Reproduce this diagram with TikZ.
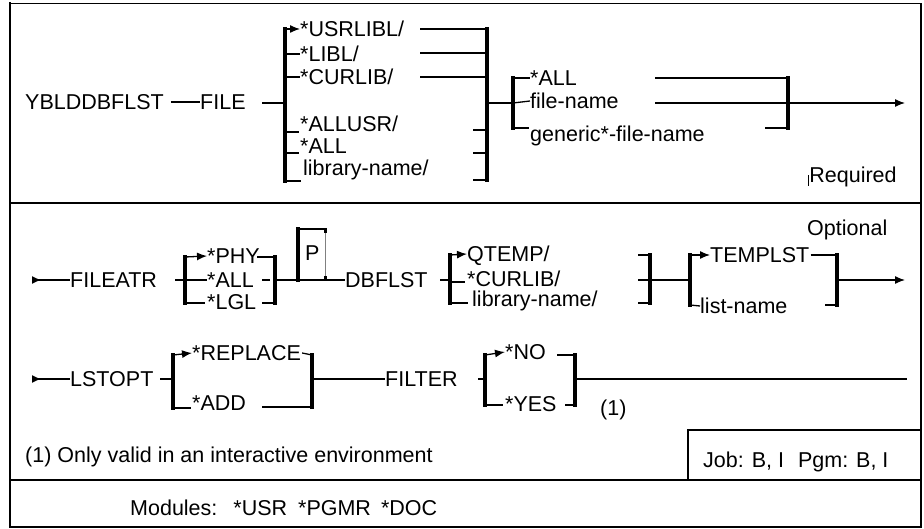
\documentclass[tikz,border=0pt]{standalone}
\usepackage{fontspec}
\setmainfont{Liberation Sans}
\usetikzlibrary{arrows.meta}

\tikzset{
  txt/.style={anchor=west,inner sep=0pt,text height=15.4pt,text depth=0pt,font=\fontsize{21.5}{21.5}\selectfont},
  ln/.style={line width=1.3pt},
  brk/.style={line width=3.2pt,line cap=rect},
  tip/.style={{Latex[reversed,length=9pt,width=8pt]}-},
}

\begin{document}
\begin{tikzpicture}[x=1pt,y=-1pt,>={Latex[length=10pt,width=8pt]}]
  \useasboundingbox (0,0) rectangle (924,529);
  % frame
  \draw[line width=1.5pt] (10,3.5) rectangle (921,527);
  \draw[line width=2.5pt] (10,2.5) -- (10,528);
  \draw[line width=1.8pt] (10,203) -- (921,203);
  \draw[line width=1.8pt] (10,480) -- (921,480);
  \draw[line width=2.5pt] (688,480) -- (688,430) -- (921,430);

  % row 1
  \node[txt] (cmd) at (25,102) {YBLDDBFLST};
  \node[txt] (file) at (200,102) {FILE};
  \node[txt] (usrlibl) at (300,29) {*USRLIBL/};
  \node[txt] (libl) at (300,54) {*LIBL/};
  \node[txt] (curlib) at (300,77) {*CURLIB/};
  \node[txt] (allusr) at (300,124) {*ALLUSR/};
  \node[txt] (allf) at (300,146) {*ALL};
  \node[txt] (libname) at (303,168) {library-name/};
  \node[txt] (allfile) at (530,78) {*ALL};
  \node[txt] (fname) at (530,101) {file-name};
  \node[txt] (gname) at (530,134) {generic*-file-name};
  \node[txt] (req) at (808,175) {\rule[-3pt]{1.2pt}{11pt}Required};
  \draw[ln] ([xshift=7pt]cmd.east) -- (file.west);
  \draw[ln] (262,103) -- (285,103);
  \draw[brk] (285,29) -- (285,181);
  \draw[ln,->] (285,29) -- (usrlibl.west);
  \draw[ln] (285,54) -- (libl.west);
  \draw[ln] (285,77) -- (curlib.west);
  \draw[ln] (285,132) -- (299,132);
  \draw[ln] (285,153) -- (299,153);
  \draw[ln] (285,181) -- (301,181);
  \draw[ln] (420,29) -- (487,29);
  \draw[ln] (420,53) -- (487,53);
  \draw[ln] (420,77) -- (487,77);
  \draw[ln] (473,130) -- (487,130);
  \draw[ln] (473,153) -- (487,153);
  \draw[ln] (473,180) -- (487,180);
  \draw[brk] (487,29) -- (487,180);
  \draw[ln] (487,103) -- (513,103);
  \draw[brk] (513,78) -- (513,128);
  \draw[ln] (513,78) -- (allfile.west);
  \draw[ln] (513,103) -- (fname.west);
  \draw[ln] (513,128) -- (529,128);
  \draw[ln] (655,78) -- (788,78);
  \draw[ln] (655,103) -- (788,103);
  \draw[ln] (765,128) -- (788,128);
  \draw[brk] (788,78) -- (788,128);
  \draw[ln,->] (788,103) -- (905,103);

  % row 2
  \node[txt] (fileatr) at (70,280) {FILEATR};
  \node[txt] (phy) at (207,256) {*PHY};
  \node[txt] (allatr) at (207,280) {*ALL};
  \node[txt] (lgl) at (207,302) {*LGL};
  \node[txt] (pval) at (305,253) {P};
  \node[txt] (dbflst) at (345,280) {DBFLST};
  \node[txt] (qtemp) at (467,254) {QTEMP/};
  \node[txt] (curlib2) at (467,279) {*CURLIB/};
  \node[txt] (libname2) at (472,299) {library-name/};
  \node[txt] (templst) at (710,255) {TEMPLST};
  \node[txt] (listname) at (700,306) {list-name};
  \node[txt] (opt) at (807,228) {Optional};
  \draw[ln,tip] (32,280) -- (fileatr.west);
  \draw[ln] (175,280) -- (185,280);
  \draw[brk] (185,257) -- (185,303);
  \draw[ln,->] (185,257) -- (phy.west);
  \draw[ln] (185,280) -- (allatr.west);
  \draw[ln] (185,303) -- (205,303);
  \draw[ln] (257,257) -- (275,257);
  \draw[ln] (262,280) -- (270,280);
  \draw[ln] (262,303) -- (275,303);
  \draw[brk] (275,257) -- (275,303);
  \draw[ln] (275,280) -- (dbflst.west);
  \draw[brk] (298,280) -- (298,229);
  \draw[line width=2pt] (298,229) -- (325,229);
  \draw[line width=0.4pt,gray] (325,229) -- (325,279);
  \fill (323.5,228) rectangle (326.5,233);
  \fill (323.5,276) rectangle (326.5,280);
  \draw[ln] (440,280) -- (450,280);
  \draw[brk] (450,255) -- (450,303);
  \draw[ln,->] (450,255) -- (qtemp.west);
  \draw[ln] (450,282) -- (465,282);
  \draw[ln] (450,303) -- (468,303);
  \draw[ln] (638,255) -- (650,255);
  \draw[ln] (638,303) -- (650,303);
  \draw[brk] (650,255) -- (650,303);
  \draw[ln] (638,280) -- (690,280);
  \draw[brk] (690,255) -- (690,305);
  \draw[ln,->] (690,255) -- (templst.west);
  \draw[ln] (690,305) -- (listname.west);
  \draw[ln] ([xshift=1pt]templst.east) -- (837,255);
  \draw[ln] (825,305) -- (837,305);
  \draw[brk] (837,255) -- (837,305);
  \draw[ln,->] (837,280) -- (905,280);

  % row 3
  \node[txt] (lstopt) at (70,379) {LSTOPT};
  \node[txt] (replace) at (192,353) {*REPLACE};
  \node[txt] (add) at (192,403) {*ADD};
  \node[txt] (filter) at (385,379) {FILTER};
  \node[txt] (no) at (505,352) {*NO};
  \node[txt] (yes) at (505,404) {*YES};
  \node[txt] (fn1) at (600,408) {(1)};
  \draw[ln,tip] (32,379) -- (lstopt.west);
  \draw[ln] (160,379) -- (173,379);
  \draw[brk] (173,355) -- (173,408);
  \draw[ln,->] (173,355) -- (replace.west);
  \draw[ln] (173,408) -- (191,408);
  \draw[ln] ([xshift=1pt]replace.east) -- (312,355);
  \draw[ln] (262,407) -- (312,407);
  \draw[brk] (312,355) -- (312,407);
  \draw[ln] (312,379) -- (filter.west);
  \draw[ln] (478,379) -- (485,379);
  \draw[brk] (485,355) -- (485,405);
  \draw[ln,->] (485,355) -- (no.west);
  \draw[ln] (485,405) -- (503,405);
  \draw[ln] (557,355) -- (575,355);
  \draw[ln] (565,405) -- (575,405);
  \draw[brk] (575,355) -- (575,405);
  \draw[ln] (575,379) -- (907,379);

  % notes
  \node[txt] (note) at (25,455) {(1) Only valid in an interactive environment};
  \node[txt] (job) at (703,460) {Job: B, I\hspace{14pt}Pgm: B, I};
  \node[txt] (modules) at (130,508) {Modules:\hspace{16pt}*USR\hspace{11pt}*PGMR\hspace{10pt}*DOC};
\end{tikzpicture}
\end{document}
